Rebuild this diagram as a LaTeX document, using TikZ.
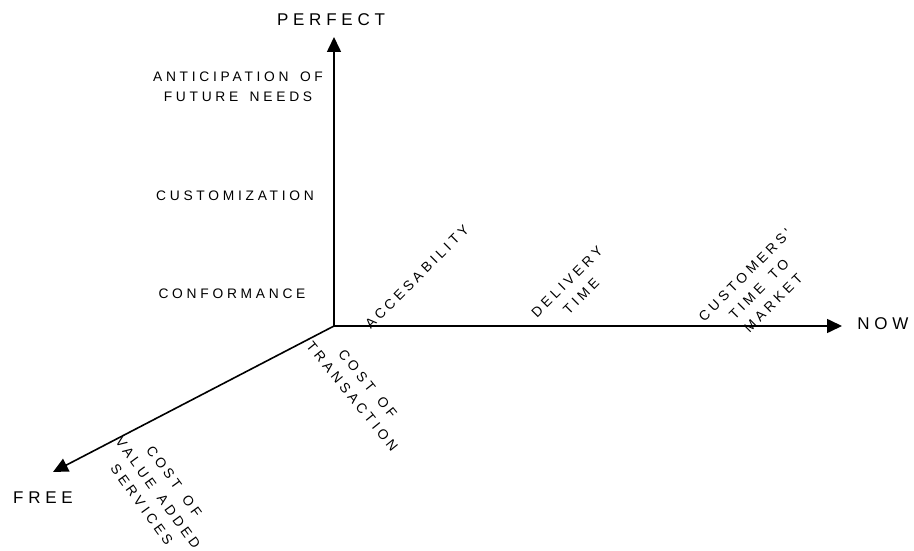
\documentclass[tikz,border=0pt]{standalone}
\usepackage{fontspec}
\setmainfont{Liberation Sans}
\newfontfamily\spaced[LetterSpace=27,WordSpace=1.5]{Liberation Sans}
\newfontfamily\tspaced[LetterSpace=28]{Liberation Sans}
\usetikzlibrary{arrows.meta}
\begin{document}
\begin{tikzpicture}[x=1pt,y=-1pt,
  axis/.style={line width=1.6pt,-{Triangle[length=15pt,width=14pt]}},
  lbl/.style={font=\fontsize{13.8}{20}\spaced, align=center, inner sep=0pt},
  ttl/.style={font=\fontsize{17}{20}\tspaced, inner sep=0pt}]
\useasboundingbox (0,0) rectangle (914,551);
\coordinate (O) at (334,326);
\coordinate (P) at (334,37);
\coordinate (N) at (842,326);
\coordinate (F) at (53,472);
\draw[axis] (O) -- (P);
\draw[axis] (O) -- (N);
\draw[axis] (O) -- (F);
\node[ttl] (perfect) at (331,20) {PERFECT};
\node[ttl] (now) at (883,324) {NOW};
\node[ttl] (free) at (43,498) {FREE};
\node[lbl] (ant) at (238,87) {ANTICIPATION OF\\FUTURE NEEDS};
\node[lbl] (cust) at (235,196) {CUSTOMIZATION};
\node[lbl] (conf) at (232,294) {CONFORMANCE};
\node[lbl, rotate=45] (acc) at (417,277) {ACCESABILITY};
\node[lbl, rotate=45] (del) at (574,289) {DELIVERY\\TIME};
\node[lbl, rotate=45] (ctm) at (759,289) {CUSTOMERS'\\TIME TO\\MARKET};
\node[lbl, rotate=-51] (cot) at (360,390) {COST OF\\TRANSACTION};
\node[lbl, rotate=-54] (cov) at (158,493) {COST OF\\VALUE ADDED\\SERVICES};
\end{tikzpicture}
\end{document}
